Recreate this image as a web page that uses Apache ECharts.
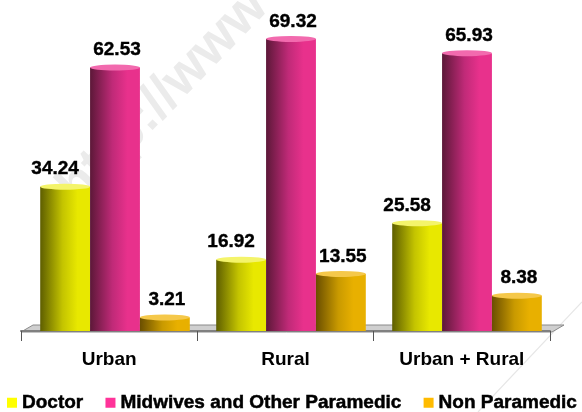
<!DOCTYPE html>
<html>
<head>
<meta charset="utf-8">
<script src="https://cdn.jsdelivr.net/npm/echarts@6/dist/echarts.min.js"></script>
<style>
  html, body { margin: 0; padding: 0; background: #fff; }
  #main { width: 582px; height: 412px; }
</style>
</head>
<body>
<div id="main"></div>
<script>
var categories = ['Urban', 'Rural', 'Urban + Rural']
var seriesNames = ['Doctor', 'Midwives and Other Paramedic', 'Non Paramedic']
var doctor = [34.24, 16.92, 25.58]
var midwives = [62.53, 69.32, 65.93]
var nonParamedic = [3.21, 13.55, 8.38]

var font = '"Liberation Sans", Arial, sans-serif'
var values = [doctor, midwives, nonParamedic]
// dark edge, mid, bright face, legend swatch, cap
var palette = [
    ['#5e5e00', '#c4c400', '#e8e800', '#ffff00', '#f4f46a'],
    ['#5c1838', '#c02a78', '#e8318c', '#ff3399', '#f26aae'],
    ['#6a4e00', '#c99a00', '#e8b000', '#ffbb00', '#f5c84a']
]
var labelShift = [-10, 2, 2]

function grad(c) {
    return new echarts.graphic.LinearGradient(0, 0, 1, 0, [
        { offset: 0, color: c[0] },
        { offset: 0.45, color: c[1] },
        { offset: 0.75, color: c[2] },
        { offset: 1, color: c[2] }
    ])
}

var myChart = echarts.init(document.getElementById('main'))
var series = []
values.forEach(function (v, i) {
    series.push({
        name: seriesNames[i],
        type: 'bar',
        data: v,
        barGap: '0%',
        barCategoryGap: '15%',
        itemStyle: { color: grad(palette[i]) },
        label: {
            show: true,
            position: 'top',
            distance: 8,
            offset: [labelShift[i], 0],
            color: '#000',
            fontFamily: font,
            fontWeight: 'bold',
            fontSize: 19,
            textBorderColor: '#000',
            textBorderWidth: 0.4,
            formatter: function (p) { return p.value.toFixed(2) }
        },
        z: 3
    })
})
values.forEach(function (v, i) {
    series.push({
        name: seriesNames[i],
        type: 'pictorialBar',
        data: v,
        barGap: '0%',
        barCategoryGap: '15%',
        symbol: 'circle',
        symbolSize: ['100%', 6],
        symbolPosition: 'end',
        symbolOffset: [0, '-50%'],
        itemStyle: { color: palette[i][4] },
        z: 4,
        silent: true
    })
})

var option = {
    animation: false,
    grid: [
        { left: 27, right: 27, top: 15, bottom: 81 },
        { left: 21, right: 32, top: 15, bottom: 81 }
    ],
    legend: {
        data: seriesNames.map(function (n, i) {
            return { name: n, itemStyle: { color: palette[i][3] } }
        }),
        left: 7,
        top: 393,
        padding: 0,
        itemWidth: 10,
        itemHeight: 10,
        itemGap: 22,
        icon: 'rect',
        textStyle: {
            color: '#000', fontFamily: font, fontWeight: 'bold', fontSize: 19,
            textBorderColor: '#000', textBorderWidth: 0.5
        }
    },
    xAxis: [
        { type: 'category', gridIndex: 0, data: categories, show: false },
        {
            type: 'category',
            gridIndex: 1,
            data: categories,
            axisLine: { lineStyle: { color: '#808080', width: 2 } },
            axisTick: { show: true, length: 10, lineStyle: { color: '#555' } },
            axisLabel: { color: '#000', fontFamily: font, fontWeight: 'bold', fontSize: 19, margin: 19 }
        }
    ],
    yAxis: [
        { type: 'value', gridIndex: 0, min: 0, max: 75, show: false },
        { type: 'value', gridIndex: 1, min: 0, max: 75, show: false }
    ],
    graphic: [
        {
            type: 'text',
            z: -1,
            x: 48, y: 178,
            rotation: 46 * Math.PI / 180,
            style: { text: 'http://www', fill: '#ebebeb', font: 'bold 54px ' + font, textBaseline: 'bottom' }
        },
        {
            type: 'line',
            z: -1,
            shape: { x1: 478, y1: 412, x2: 582, y2: 302 },
            style: { stroke: '#e6e6e6', lineWidth: 1.2 }
        },
        {
            type: 'polygon',
            z: 0,
            shape: { points: [[21, 332], [552, 332], [564, 325], [33, 325]] },
            style: { fill: '#cfcfcf', stroke: '#8a8a8a', lineWidth: 1 }
        }
    ],
    series: series
}
myChart.setOption(option)
</script>
</body>
</html>
